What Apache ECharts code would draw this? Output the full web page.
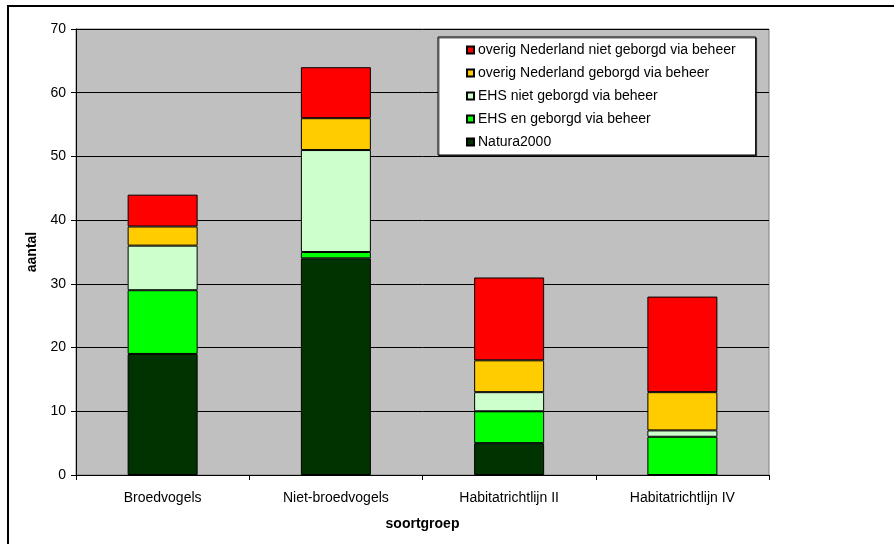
<!DOCTYPE html>
<html>
<head>
<meta charset="utf-8">
<script src="https://cdn.jsdelivr.net/npm/echarts@6/dist/echarts.min.js"></script>
<style>
html,body{margin:0;padding:0;background:#fff;}
#frame{position:absolute;left:7px;top:5px;width:900px;height:560px;border:2px solid #000;box-sizing:border-box;}
#chart{position:absolute;left:0;top:0;width:894px;height:544px;}
</style>
</head>
<body>
<div id="frame"></div>
<div id="chart"></div>
<script>
const categories = ['Broedvogels', 'Niet-broedvogels', 'Habitatrichtlijn II', 'Habitatrichtlijn IV'];
const natura2000 = [19, 34, 5, 0];
const ehsGeborgd = [10, 1, 5, 6];
const ehsNietGeborgd = [7, 16, 3, 1];
const overigGeborgd = [3, 5, 5, 6];
const overigNietGeborgd = [5, 8, 13, 15];
const seriesNames = ['Natura2000', 'EHS en geborgd via beheer', 'EHS niet geborgd via beheer', 'overig Nederland geborgd via beheer', 'overig Nederland niet geborgd via beheer'];
const seriesColors = ['#003300', '#00FF00', '#CCFFCC', '#FFCC00', '#FF0000'];
const seriesData = [natura2000, ehsGeborgd, ehsNietGeborgd, overigGeborgd, overigNietGeborgd];
const yTicks = { min: 0, max: 70, interval: 10 };

const font = 'Liberation Sans, Arial, sans-serif';
const chart = echarts.init(document.getElementById('chart'), null, { renderer: 'canvas' });
chart.setOption({
  animation: false,
  backgroundColor: 'transparent',
  textStyle: { fontFamily: font },
  grid: {
    left: 76, right: 125, top: 29, bottom: 69,
    show: true, backgroundColor: '#C0C0C0', borderColor: '#808080', borderWidth: 1
  },
  legend: {
    data: seriesNames.slice().reverse(),
    orient: 'vertical',
    left: 438, top: 37,
    padding: [6, 20, 6, 28],
    itemGap: 9,
    itemWidth: 7, itemHeight: 7,
    icon: 'rect',
    backgroundColor: '#fff',
    borderColor: '#000', borderWidth: 1,
    shadowColor: 'rgba(0,0,0,0.6)', shadowOffsetX: 1, shadowOffsetY: 1,
    textStyle: { fontFamily: font, fontSize: 14, lineHeight: 14, color: '#000', padding: [0, 0, 0, -1] }
  },
  xAxis: {
    type: 'category',
    data: categories,
    name: 'soortgroep',
    nameLocation: 'middle',
    nameGap: 42,
    nameTextStyle: { fontFamily: font, fontSize: 14, fontWeight: 'bold', color: '#000' },
    axisLine: { lineStyle: { color: '#000', width: 1 } },
    axisTick: { show: true, length: 5, lineStyle: { color: '#000' } },
    axisLabel: { fontFamily: font, fontSize: 14, color: '#000', margin: 16 }
  },
  yAxis: {
    type: 'value',
    min: yTicks.min, max: yTicks.max, interval: yTicks.interval,
    name: 'aantal',
    nameLocation: 'middle',
    nameGap: 35,
    nameRotate: 90,
    nameTextStyle: { fontFamily: font, fontSize: 14, fontWeight: 'bold', color: '#000' },
    axisLine: { show: true, lineStyle: { color: '#000', width: 1 } },
    axisTick: { show: true, length: 5, lineStyle: { color: '#000' } },
    axisLabel: { fontFamily: font, fontSize: 14, color: '#000', margin: 10 },
    splitLine: { show: true, lineStyle: { color: '#000', width: 1 } }
  },
  series: seriesNames.map((n, i) => ({
    name: n,
    type: 'bar',
    stack: 'total',
    barWidth: 70,
    data: seriesData[i],
    itemStyle: { color: seriesColors[i], borderColor: '#000', borderWidth: 1 },
    emphasis: { disabled: true }
  }))
});
</script>
</body>
</html>
